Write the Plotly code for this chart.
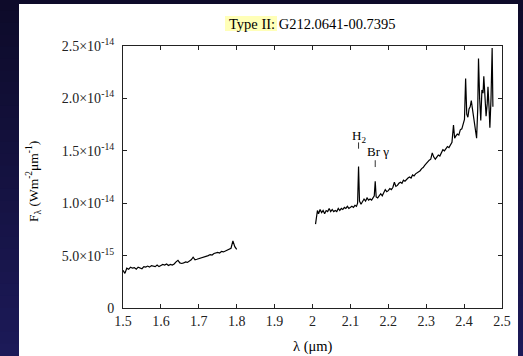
import plotly.graph_objects as go

# ---- data (fluxes) ----
wl_h = [1.500,1.505,1.510,1.515,1.520,1.525,1.530,1.535,1.540,1.545,1.550,1.555,1.560,1.565,1.570,
        1.575,1.580,1.585,1.590,1.595,1.600,1.605,1.610,1.615,1.620,1.625,1.630,1.635,1.640,1.645,
        1.650,1.655,1.660,1.665,1.670,1.675,1.680,1.685,1.690,1.695,1.700,1.705,1.710,1.715,1.720,
        1.725,1.730,1.735,1.740,1.745,1.750,1.755,1.760,1.765,1.770,1.775,1.780,1.785,1.790,1.795,1.800]
flux_h = [3.6,3.3,3.8,3.7,3.9,3.8,3.85,3.7,3.9,3.8,3.75,3.95,3.9,4.0,3.9,
          4.05,4.0,3.95,4.1,3.95,4.05,4.15,4.1,4.2,4.05,4.15,4.1,4.2,4.4,4.55,
          4.3,4.25,4.3,4.4,4.35,4.5,4.6,4.85,4.6,4.65,4.7,4.8,4.85,4.9,4.95,
          5.0,5.1,5.05,5.2,5.25,5.3,5.25,5.4,5.35,5.45,5.5,5.6,5.7,6.4,5.85,5.6]  # x1e-15

wl_k = [2.008,2.010,2.013,2.016,2.020,2.024,2.028,2.032,2.036,2.040,2.044,2.048,2.052,2.056,2.060,
        2.064,2.068,2.072,2.076,2.080,2.084,2.088,2.092,2.096,2.100,2.104,2.108,2.112,2.116,2.119,
        2.1215,2.124,2.128,2.132,2.136,2.140,2.144,2.148,2.152,2.156,2.160,2.163,2.1655,2.168,2.172,
        2.176,2.180,2.184,2.188,2.192,2.196,2.200,2.204,2.208,2.212,2.216,2.220,2.224,2.228,2.232,
        2.236,2.240,2.244,2.248,2.252,2.256,2.260,2.264,2.268,2.272,2.276,2.280,2.284,2.288,2.292,
        2.296,2.300,2.304,2.308,2.312,2.316,2.320,2.324,2.328,2.332,2.336,2.340,2.344,2.348,2.352,
        2.356,2.360,2.364,2.368,2.372,2.375,2.378,2.382,2.386,2.390,2.394,2.398,2.401,2.404,2.407,
        2.410,2.413,2.416,2.419,2.422,2.426,2.430,2.433,2.436,2.438,2.441,2.444,2.447,2.450,2.452,
        2.455,2.458,2.461,2.463,2.466,2.468,2.471,2.474,2.476]
flux_k = [0.80,0.84,0.93,0.90,0.94,0.91,0.93,0.90,0.93,0.92,0.95,0.92,0.94,0.92,0.93,
          0.92,0.95,0.93,0.95,0.94,0.96,0.95,0.97,0.95,0.96,0.97,0.96,0.98,0.97,1.00,
          1.35,1.02,0.99,1.02,1.04,1.02,1.05,1.03,1.04,1.03,1.05,1.07,1.21,1.06,1.05,
          1.07,1.09,1.07,1.10,1.13,1.11,1.12,1.14,1.13,1.15,1.20,1.16,1.17,1.19,1.20,
          1.19,1.22,1.21,1.23,1.24,1.25,1.24,1.27,1.26,1.28,1.29,1.30,1.31,1.33,1.34,
          1.36,1.38,1.40,1.41,1.42,1.48,1.44,1.42,1.44,1.46,1.45,1.49,1.51,1.50,1.52,
          1.54,1.53,1.56,1.58,1.745,1.62,1.64,1.66,1.65,1.70,1.71,1.75,1.80,2.19,1.85,
          1.82,1.90,1.92,1.98,1.90,1.79,1.70,1.62,1.90,2.38,2.00,1.79,2.08,2.05,2.21,
          1.95,1.83,1.95,2.11,1.90,1.72,2.00,2.48,1.92]  # x1e-14

line_names = ["H<sub>2</sub>", "Br γ"]
line_wl = [2.1215, 2.1655]
line_txt_x = [2.1215, 2.174]
line_txt_y = [1.64e-14, 1.49e-14]
line_tick_y = [(1.52e-14, 1.58e-14), (1.345e-14, 1.41e-14)]

x_ticks = [1.5,1.6,1.7,1.8,1.9,2.0,2.1,2.2,2.3,2.4,2.5]
x_ticktext = ["1.5","1.6","1.7","1.8","1.9","2","2.1","2.2","2.3","2.4","2.5"]
y_ticks = [0,0.5e-14,1.0e-14,1.5e-14,2.0e-14,2.5e-14]
y_ticktext = ["0","5.0×10<sup>-15</sup>","1.0×10<sup>-14</sup>","1.5×10<sup>-14</sup>",
              "2.0×10<sup>-14</sup>","2.5×10<sup>-14</sup>"]

FONT = "Times New Roman, Liberation Serif, DejaVu Serif, serif"
W, H = 523, 356
L, R, T, B = 123, 21, 46, 48
PW, PH = W - L - R, H - T - B

def px(x):
    return (x - L) / PW

def py(y):
    return (H - B - y) / PH

fig = go.Figure()
fig.add_trace(go.Scatter(x=wl_h, y=[v * 1e-15 for v in flux_h], mode="lines",
                         line=dict(color="black", width=1.2), showlegend=False))
fig.add_trace(go.Scatter(x=wl_k, y=[v * 1e-14 for v in flux_k], mode="lines",
                         line=dict(color="black", width=1.2), showlegend=False))

shapes = []
# dark gradient background
nb = 30
c0, c1 = (14, 11, 42), (28, 26, 88)
for i in range(nb):
    t = i / (nb - 1)
    col = "rgb(%d,%d,%d)" % tuple(int(a + (b - a) * t) for a, b in zip(c0, c1))
    shapes.append(dict(type="rect", xref="paper", yref="paper", layer="below",
                       x0=px(-5), x1=px(W + 5), y0=py(H * i / nb - 1), y1=py(H * (i + 1) / nb + 1),
                       line=dict(width=0), fillcolor=col))
# white panel
shapes.append(dict(type="rect", xref="paper", yref="paper", layer="below",
                   x0=px(19), x1=px(518), y0=py(4), y1=py(H + 5),
                   line=dict(width=0), fillcolor="white"))
# title highlight
shapes.append(dict(type="rect", xref="paper", yref="paper", layer="below",
                   x0=px(225), x1=px(277), y0=py(16), y1=py(31),
                   line=dict(width=0), fillcolor="#ffffb8"))
for wl, (ya, yb) in zip(line_wl, line_tick_y):
    shapes.append(dict(type="line", xref="x", yref="y", x0=wl, x1=wl, y0=ya, y1=yb,
                       line=dict(color="#333", width=1)))

ann = []
for name, tx, ty in zip(line_names, line_txt_x, line_txt_y):
    ann.append(dict(x=tx, y=ty, xref="x", yref="y", xanchor="center", yanchor="middle",
                    text=name, showarrow=False, font=dict(family=FONT, size=13, color="black")))
ann.append(dict(x=px(312.5), y=py(23.5), xref="paper", yref="paper",
                text="Type II: G212.0641-00.7395",
                xanchor="center", yanchor="middle", showarrow=False,
                font=dict(family=FONT, size=14.5, color="black")))
ann.append(dict(x=px(33), y=py(182), xref="paper", yref="paper",
                xanchor="center", yanchor="middle",
                text="F<sub>λ</sub> (Wm<sup>-2</sup>μm<sup>-1</sup>)", textangle=-90,
                showarrow=False, font=dict(family=FONT, size=13.5, color="black")))
ann.append(dict(x=px(312.5), y=py(346), xref="paper", yref="paper", text="λ (μm)",
                xanchor="center", yanchor="middle",
                showarrow=False, font=dict(family=FONT, size=14.5, color="black")))

axis_common = dict(showgrid=False, zeroline=False, showline=True, linecolor="#222", linewidth=1,
                   mirror="ticks", ticks="inside", ticklen=4, tickcolor="#222",
                   tickfont=dict(family=FONT, size=14, color="#222"))
fig.update_layout(
    width=W, height=H, margin=dict(l=L, r=R, t=T, b=B, pad=0),
    paper_bgcolor="rgb(20,17,60)", plot_bgcolor="white",
    font=dict(family=FONT),
    xaxis=dict(range=[1.5, 2.5], tickvals=x_ticks, ticktext=x_ticktext, **axis_common),
    yaxis=dict(range=[0, 2.5e-14], tickvals=y_ticks, ticktext=y_ticktext,
               ticklabelstandoff=5, **axis_common),
    shapes=shapes, annotations=ann, showlegend=False,
)
fig.write_html("out.html")
